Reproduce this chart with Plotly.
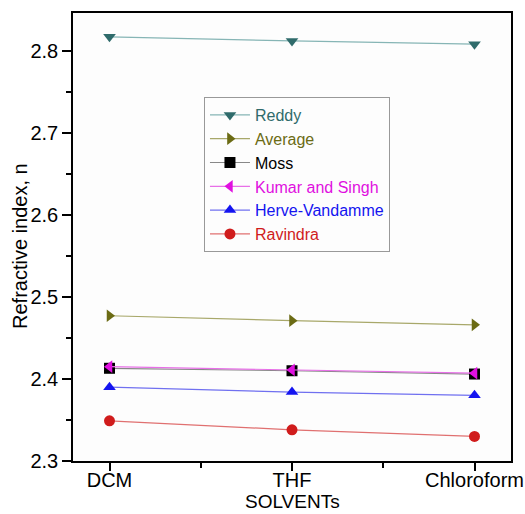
import plotly.graph_objects as go

solvents = ["DCM", "THF", "Chloroform"]
x_pos = [0, 1, 2]

reddy = [2.817, 2.812, 2.808]
average = [2.477, 2.471, 2.466]
moss = [2.413, 2.410, 2.406]
kumar = [2.415, 2.411, 2.407]
herve = [2.390, 2.384, 2.380]
ravindra = [2.349, 2.338, 2.330]

series = [
    ("Reddy", reddy, "triangle-down", "#2f6b6b", "#86b5b5"),
    ("Average", average, "triangle-right", "#6b6b14", "#a8a86a"),
    ("Moss", moss, "square", "#000000", "#888888"),
    ("Kumar and Singh", kumar, "triangle-left", "#e010e0", "#e870e8"),
    ("Herve-Vandamme", herve, "triangle-up", "#1414f0", "#7070f0"),
    ("Ravindra", ravindra, "circle", "#d01c1c", "#e07070"),
]

fig = go.Figure()
for name, vals, sym, mcol, lcol in series:
    fig.add_trace(go.Scatter(
        x=x_pos, y=vals, mode="lines+markers",
        name=f"<span style='color:{mcol}'>{name}</span>",
        line=dict(color=lcol, width=1.2),
        marker=dict(symbol=sym, color=mcol, size=11, line=dict(width=0)),
    ))

fig.update_layout(
    width=525, height=514,
    margin=dict(l=73, r=14, t=13, b=53),
    paper_bgcolor="white", plot_bgcolor="#fdfdfd",
    font=dict(family="Liberation Sans, Arial", size=20, color="black"),
    showlegend=True,
    legend=dict(
        x=0.299, y=0.8125, xanchor="left", yanchor="top",
        bgcolor="rgba(255,255,255,0)", bordercolor="#999999", borderwidth=1,
        font=dict(size=16), tracegroupgap=0, itemwidth=40,
    ),
    annotations=[
        dict(text="SOLVENTs", xref="paper", yref="paper", x=0.5, y=0,
             xanchor="center", yanchor="bottom", yshift=-53, showarrow=False,
             font=dict(size=19)),
        dict(text="Refractive index, n", xref="paper", yref="paper", x=0, y=0.48,
             xanchor="center", yanchor="middle", xshift=-53, textangle=-90,
             showarrow=False, font=dict(size=20)),
    ],
)
fig.update_xaxes(
    range=[-0.2, 2.2], tickvals=x_pos, ticktext=solvents,
    ticks="outside", ticklen=8, tickwidth=1.5, tickcolor="black",
    minor=dict(tickvals=[0.5, 1.5], ticks="outside", ticklen=5, tickwidth=1.5, tickcolor="black"),
    showline=True, linecolor="black", linewidth=1.5, mirror=True,
    showgrid=False, zeroline=False, automargin=False,
    tickfont=dict(size=20), ticklabelstandoff=-8,
)
fig.update_yaxes(
    range=[2.3, 2.846], dtick=0.1, tick0=2.3, tickformat=".1f",
    ticks="outside", ticklen=9, tickwidth=1.5, tickcolor="black",
    minor=dict(dtick=0.05, tick0=2.3, ticks="outside", ticklen=5, tickwidth=1.5, tickcolor="black"),
    showline=True, linecolor="black", linewidth=1.5, mirror=True,
    showgrid=False, zeroline=False, automargin=False,
    tickfont=dict(size=20),
)

fig.write_html("out.html")
